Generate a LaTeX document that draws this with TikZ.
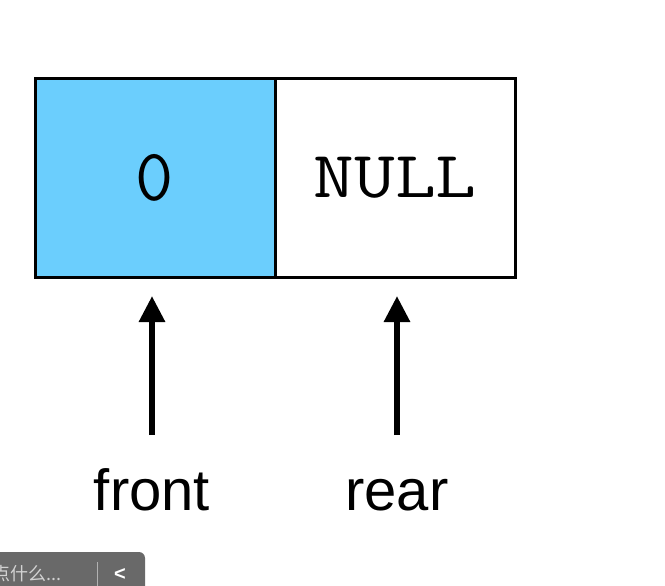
\documentclass[tikz,border=0pt]{standalone}
\usepackage{fontspec}
\usepackage{graphicx}
\setmainfont{Liberation Sans}
\newfontfamily\cjkfont{Noto Sans CJK SC}
\usetikzlibrary{arrows.meta}
\definecolor{cellblue}{HTML}{6BCEFD}
\definecolor{uigrey}{HTML}{696969}
\definecolor{uitext}{HTML}{D2D2D2}
\tikzset{
  cell/.style={draw=black, line width=3pt, minimum width=240pt, minimum height=198pt, inner sep=0pt,
    font=\ttfamily\fontsize{66}{66}\selectfont},
  lbl/.style={font=\fontsize{58}{58}\selectfont, inner sep=0pt},
  ptr/.style={line width=6pt, -{Triangle[width=25pt,length=26pt]}},
}
\begin{document}
\begin{tikzpicture}[x=1pt,y=-1pt]
\useasboundingbox (0,0) rectangle (665,586);
\fill[white] (0,0) rectangle (665,586);
% cells
\node[cell, fill=cellblue] (c0) at (155,178) {\fontsize{74}{74}\selectfont 0};
\node[cell, fill=white] (c1) at (395,178) {\scalebox{1.2}[1]{NULL}};
% labels
\node[lbl, anchor=base] (front) at (152,510) {front};
\node[lbl, anchor=base] (rear) at (397,510) {rear};
% arrows
\coordinate (fa) at (152,435);
\coordinate (fb) at (152,296);
\coordinate (ra) at (397,435);
\coordinate (rb) at (397,296);
\draw[ptr] (fa) -- (fb);
\draw[ptr] (ra) -- (rb);
% video overlay
\fill[uigrey, rounded corners=6pt] (-20,600) -- (-20,552) -- (145,552) -- (145,600) -- cycle;
\draw[uitext!70!uigrey, line width=1pt] (97,562) -- (97,586);
\node[text=uitext, anchor=west, inner sep=0pt, font=\cjkfont\fontsize{18}{18}\selectfont] (ph) at (-8,574) {点什么...};
\node[text=white, inner sep=0pt, font=\bfseries\fontsize{20}{20}\selectfont] (back) at (120,574) {<};
\end{tikzpicture}
\end{document}
